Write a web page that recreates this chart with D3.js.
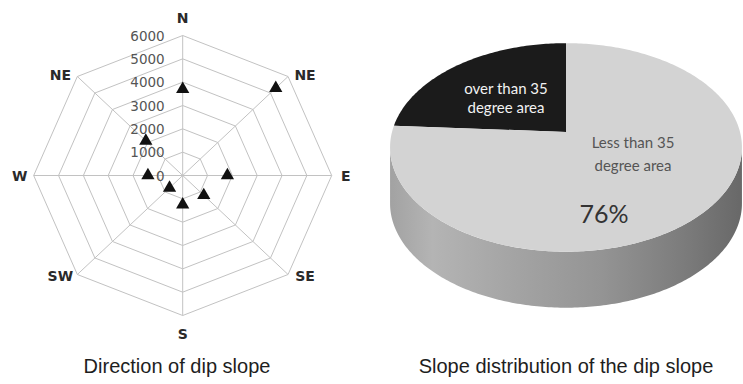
<!DOCTYPE html>
<html>
<head>
<meta charset="utf-8">
<script src="https://cdn.jsdelivr.net/npm/d3@7"></script>
<style>
  html, body { margin: 0; padding: 0; background: #fff; }
  svg { display: block; }
</style>
</head>
<body>
<svg id="chart" width="743" height="384"></svg>
<script>
// Radar: dip direction counts by compass direction
const directions = ["N", "NE", "E", "SE", "S", "SW", "W", "NE"];
const dipCounts = [3700, 5300, 1800, 1200, 1250, 750, 1400, 2100];
const radarTicks = [0, 1000, 2000, 3000, 4000, 5000, 6000];

// Pie: share of dip-slope area by slope class
const slopeClasses = [["over than 35", "degree area"], ["Less than 35", "degree area"]];
const slopeShares = [24, 76];

const titles = ["Direction of dip slope", "Slope distribution of the dip slope"];

const svg = d3.select("#chart");

// ---------- Radar chart ----------
const rc = { x: 182.7, y: 175.5, rx: 149, ry: 140 };
const rScale = d3.scaleLinear().domain([0, 6000]).range([0, 1]);
const angle = d3.scaleLinear().domain([0, directions.length]).range([0, 2 * Math.PI]);

function radarPoint(i, v) {
  const a = angle(i), r = rScale(v);
  return [rc.x + Math.sin(a) * rc.rx * r, rc.y - Math.cos(a) * rc.ry * r];
}

const radar = svg.append("g");
const ringLine = d3.line().curve(d3.curveLinearClosed);

radar.selectAll("path.ring")
  .data(radarTicks.filter(t => t > 0))
  .join("path")
  .attr("class", "ring")
  .attr("d", t => ringLine(directions.map((_, i) => radarPoint(i, t))))
  .attr("fill", "none")
  .attr("stroke", "#c2c2c2")
  .attr("stroke-width", 1);

radar.selectAll("line.spoke")
  .data(directions)
  .join("line")
  .attr("class", "spoke")
  .attr("x1", rc.x).attr("y1", rc.y)
  .attr("x2", (_, i) => radarPoint(i, 6000)[0])
  .attr("y2", (_, i) => radarPoint(i, 6000)[1])
  .attr("stroke", "#c2c2c2")
  .attr("stroke-width", 1);

radar.selectAll("text.tick")
  .data(radarTicks)
  .join("text")
  .attr("class", "tick")
  .attr("x", rc.x - 18)
  .attr("y", t => radarPoint(0, t)[1] + 5)
  .attr("text-anchor", "end")
  .attr("font-family", "DejaVu Sans, sans-serif")
  .attr("font-size", 13.5)
  .attr("fill", "#555")
  .text(d => d);

radar.selectAll("text.dir")
  .data(directions)
  .join("text")
  .attr("class", "dir")
  .each(function (d, i) {
    const [vx, vy] = radarPoint(i, 6000);
    const s = Math.sin(angle(i)), c = Math.cos(angle(i));
    const ox = Math.abs(s) < 0.01 ? 0 : Math.sign(s) * (Math.abs(s) > 0.9 ? 14 : 17);
    const oy = Math.abs(c) < 0.01 ? 0 : -Math.sign(c) * (Math.abs(c) > 0.9 ? 18 : 2);
    d3.select(this).attr("x", vx + ox).attr("y", vy + oy + 5);
  })
  .attr("text-anchor", "middle")
  .attr("font-family", "DejaVu Sans, sans-serif")
  .attr("font-weight", "bold")
  .attr("font-size", 14)
  .attr("fill", "#2a2a2a")
  .text(d => d);

radar.selectAll("path.mark")
  .data(dipCounts)
  .join("path")
  .attr("class", "mark")
  .attr("transform", (v, i) => `translate(${radarPoint(i, v)})`)
  .attr("d", d3.symbol(d3.symbolTriangle, 76))
  .attr("fill", "#111");

// ---------- 3D pie chart ----------
const pc = { x: 566, y: 132, rx: 174, ry: 102, k: 0.148, depth: 56 };

// point on the tilted disc rim (angle clockwise from 12 o'clock)
function rim(a, dy = 0) {
  const u = Math.sin(a), v = -Math.cos(a);
  const w = 1 - pc.k * v;
  return [pc.x + pc.rx * u / w, pc.y + pc.ry * v / w + dy];
}

const defs = svg.append("defs");
const grad = defs.append("linearGradient")
  .attr("id", "sideGrad")
  .attr("gradientUnits", "userSpaceOnUse")
  .attr("x1", 390).attr("x2", 742).attr("y1", 0).attr("y2", 0);
[[0, "#a2a2a2"], [0.12, "#b4b4b4"], [0.35, "#a4a4a4"], [0.6, "#949494"], [0.85, "#7a7a7a"], [1, "#686868"]]
  .forEach(([o, c]) => grad.append("stop").attr("offset", o).attr("stop-color", c));

// find the silhouette extremes of the rim
const steps = d3.range(0, 721).map(i => i / 720 * 2 * Math.PI);
const rightA = steps.filter(a => a < Math.PI).reduce((b, a) => rim(a)[0] > rim(b)[0] ? a : b);
const leftA = steps.filter(a => a > Math.PI).reduce((b, a) => rim(a)[0] < rim(b)[0] ? a : b);

const frontAngles = d3.range(rightA, leftA, (leftA - rightA) / 200).concat([leftA]);
const sidePts = frontAngles.map(a => rim(a)).concat(frontAngles.slice().reverse().map(a => rim(a, pc.depth)));

const pieG = svg.append("g");
pieG.append("path")
  .attr("d", d3.line().curve(d3.curveLinearClosed)(sidePts))
  .attr("fill", "url(#sideGrad)");

const pie = d3.pie().sort(null)
  .startAngle(-slopeShares[0] / 100 * 2 * Math.PI)
  .endAngle((1 - slopeShares[0] / 100) * 2 * Math.PI);
const arcs = pie(slopeShares);
const sliceColors = ["#1b1b1b", "#d3d3d3"];

function slicePath(d) {
  const n = Math.max(8, Math.ceil((d.endAngle - d.startAngle) * 60));
  const pts = [[pc.x, pc.y]];
  for (let i = 0; i <= n; i++) pts.push(rim(d.startAngle + (d.endAngle - d.startAngle) * i / n));
  return d3.line().curve(d3.curveLinearClosed)(pts);
}

pieG.selectAll("path.slice")
  .data(arcs)
  .join("path")
  .attr("class", "slice")
  .attr("d", slicePath)
  .attr("fill", (_, i) => sliceColors[i]);

// slice labels
const labelSpec = [
  { x: 506, y: [94, 113], fill: "#f2f2f2" },
  { x: 633, y: [148, 171], fill: "#555" }
];
slopeClasses.forEach((lines, i) => {
  lines.forEach((t, j) => {
    pieG.append("text")
      .attr("x", labelSpec[i].x)
      .attr("y", labelSpec[i].y[j])
      .attr("text-anchor", "middle")
      .attr("font-family", "Lato, sans-serif")
      .attr("font-size", 15)
      .attr("fill", labelSpec[i].fill)
      .text(t);
  });
});
pieG.append("text")
  .attr("x", 604)
  .attr("y", 223)
  .attr("text-anchor", "middle")
  .attr("font-family", "Lato, sans-serif")
  .attr("font-size", 25)
  .attr("fill", "#333")
  .text(slopeShares[1] + "%");

// ---------- titles ----------
svg.selectAll("text.title")
  .data(titles)
  .join("text")
  .attr("class", "title")
  .attr("x", (_, i) => [177, 566][i])
  .attr("y", 373)
  .attr("text-anchor", "middle")
  .attr("font-family", "Liberation Sans, Arial, sans-serif")
  .attr("font-size", 20)
  .attr("fill", "#1e1e1e")
  .text(d => d);
</script>
</body>
</html>
